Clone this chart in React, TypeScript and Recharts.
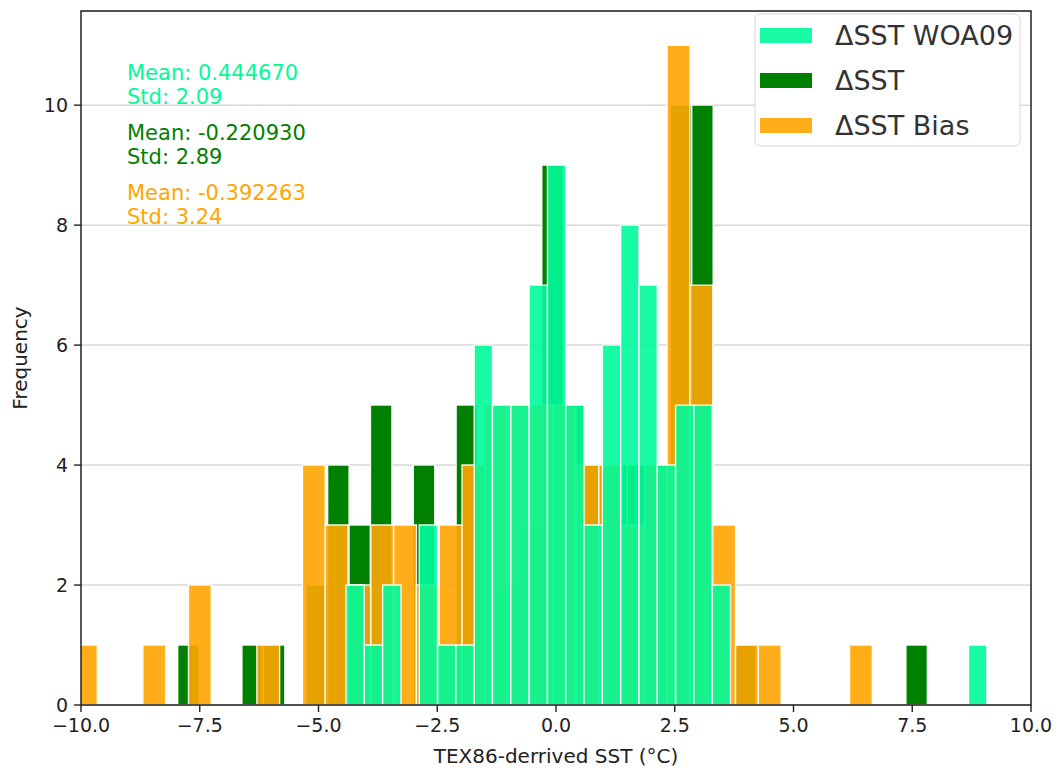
import { ComposedChart, XAxis, YAxis, CartesianGrid, ReferenceArea } from 'recharts';

// tick labels
const xTicks = [-10, -7.5, -5, -2.5, 0, 2.5, 5, 7.5, 10];
const yTicks = [0, 2, 4, 6, 8, 10];
const yMax = 11.57;

// 35 bins per series, each over its own data range
const woaStart = -4.421;
const woaWidth = 0.3855;
const woaCounts = [2, 1, 2, 0, 3, 1, 1, 6, 5, 5, 7, 9, 5, 3, 6, 8, 7, 4, 5, 5, 2, 0, 0, 0, 0, 0, 0, 0, 0, 0, 0, 0, 0, 0, 1];

const sstStart = -7.964;
const sstWidth = 0.4509;
const sstCounts = [1, 0, 0, 1, 1, 0, 2, 4, 3, 5, 0, 4, 1, 5, 4, 2, 3, 9, 5, 4, 4, 4, 4, 10, 10, 0, 1, 0, 0, 0, 0, 0, 0, 0, 1];

const biasStart = -10.137;
const biasWidth = 0.4799;
const biasCounts = [1, 0, 0, 1, 0, 2, 0, 0, 1, 0, 4, 3, 2, 3, 3, 2, 3, 4, 5, 5, 5, 5, 4, 4, 3, 4, 11, 7, 3, 1, 1, 0, 0, 0, 1];

const stats = [
  { mean: 'Mean: 0.444670', std: 'Std: 2.09', color: '#00FA9A' },
  { mean: 'Mean: -0.220930', std: 'Std: 2.89', color: '#008000' },
  { mean: 'Mean: -0.392263', std: 'Std: 3.24', color: '#FFA500' },
];

const legendItems = [
  { name: 'ΔSST WOA09', color: '#00FA9A', opacity: 0.9 },
  { name: 'ΔSST', color: '#008000', opacity: 1 },
  { name: 'ΔSST Bias', color: '#FFA500', opacity: 0.9 },
];

const toBins = (start: number, width: number, counts: number[]) =>
  counts
    .map((count, i) => ({ x1: start + i * width, x2: start + (i + 1) * width, count }))
    .filter((b) => b.count > 0);

// draw order: dark green, then orange, then mint on top
const series = [
  { key: 'sst', color: '#008000', opacity: 1, bins: toBins(sstStart, sstWidth, sstCounts) },
  { key: 'bias', color: '#FFA500', opacity: 0.9, bins: toBins(biasStart, biasWidth, biasCounts) },
  { key: 'woa', color: '#00FA9A', opacity: 0.9, bins: toBins(woaStart, woaWidth, woaCounts) },
];

const FONT = 'DejaVu Sans, sans-serif';
const fmtX = (v: number) => v.toFixed(1).replace('-', '\u2212');

export default function App() {
  return (
    <div style={{ position: 'absolute', left: 0, top: 0, width: 1059, height: 774, background: '#fff' }}>
      <ComposedChart width={1059} height={774} margin={{ top: 11, right: 28, bottom: 39, left: 21 }}>
        <CartesianGrid horizontal vertical={false} stroke="#d9d9d9" strokeWidth={1.5} />
        <XAxis
          type="number"
          dataKey="x"
          domain={[-10, 10]}
          ticks={xTicks}
          allowDataOverflow
          height={30}
          axisLine={false}
          tickLine={{ stroke: '#222', strokeWidth: 1.4 }}
          tickSize={7}
          tickMargin={7}
          tickFormatter={fmtX}
          tick={{ fill: '#222', fontSize: 19, fontFamily: FONT }}
        />
        <YAxis
          type="number"
          domain={[0, yMax]}
          ticks={yTicks}
          allowDataOverflow
          width={60}
          axisLine={false}
          tickLine={{ stroke: '#222', strokeWidth: 1.4 }}
          tickSize={7}
          tickMargin={6}
          tick={{ fill: '#222', fontSize: 19, fontFamily: FONT }}
        />
        {series.map((s) =>
          s.bins.map((b, i) => (
            <ReferenceArea
              key={`${s.key}-${i}`}
              x1={b.x1}
              x2={b.x2}
              y1={0}
              y2={b.count}
              ifOverflow="hidden"
              fill={s.color}
              fillOpacity={s.opacity}
              stroke="#ffffff"
              strokeOpacity={0.9}
              strokeWidth={1.4}
            />
          ))
        )}
        <ReferenceArea x1={-10} x2={10} y1={0} y2={yMax} ifOverflow="visible" fill="none" stroke="#222" strokeWidth={1.5} />
      </ComposedChart>

      <svg width={1059} height={774} style={{ position: 'absolute', left: 0, top: 0, pointerEvents: 'none' }}>
        {stats.map((s, i) => (
          <g key={s.mean} fontFamily={FONT} fontSize={21} fill={s.color}>
            <text x={127} y={80 + i * 60}>{s.mean}</text>
            <text x={127} y={104 + i * 60}>{s.std}</text>
          </g>
        ))}

        <rect x={755} y={14} width={265} height={132} rx={5} fill="#fff" stroke="#d5d5d5" strokeWidth={1} />
        {legendItems.map((it, i) => (
          <g key={it.name}>
            <rect x={760} y={28 + i * 45} width={52} height={15} fill={it.color} fillOpacity={it.opacity} />
            <text x={835} y={45 + i * 45} fontFamily={FONT} fontSize={27} fill="#333">{it.name}</text>
          </g>
        ))}

        <text x={556} y={763} textAnchor="middle" fontFamily={FONT} fontSize={20} fill="#222">
          TEX86-derrived SST (°C)
        </text>
        <text x={27} y={358} textAnchor="middle" fontFamily={FONT} fontSize={20} fill="#222" transform="rotate(-90, 27, 358)">
          Frequency
        </text>
      </svg>
    </div>
  );
}
